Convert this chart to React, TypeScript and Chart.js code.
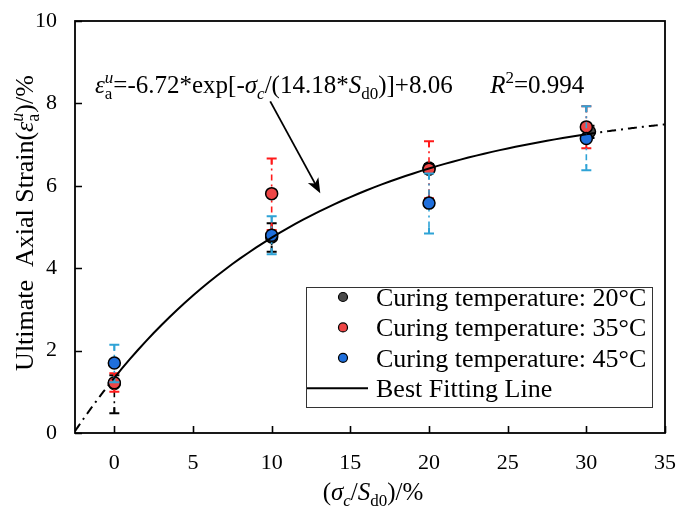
import React, { useEffect, useRef } from "react";
import { Chart, registerables } from "chart.js";
Chart.register(...registerables);

// ---- data ----
const X_TICKS = [0, 5, 10, 15, 20, 25, 30, 35];
const Y_TICKS = [0, 2, 4, 6, 8, 10];

const T20_X = [0, 10, 20, 30.2];
const T20_Y = [1.2, 4.76, 6.43, 7.31];
const T20_UP = [0.2, 0.33, 0.1, 0.15];
const T20_DOWN = [0.72, 0.36, 0.1, 0.15];

const T35_X = [0, 10, 20, 30];
const T35_Y = [1.22, 5.81, 6.4, 7.43];
const T35_UP = [0.23, 0.85, 0.68, 0.5];
const T35_DOWN = [0.22, 0.88, 0.7, 0.52];

const T45_X = [0, 10, 20, 30];
const T45_Y = [1.7, 4.8, 5.58, 7.15];
const T45_UP = [0.44, 0.46, 0.72, 0.78];
const T45_DOWN = [0.47, 0.46, 0.74, 0.77];

// fit parameters as printed on the chart
const FIT_A = -6.72;
const FIT_T = 14.18;
const FIT_Y0 = 8.06;
const FIT_SOLID_RANGE = [0, 30];
const FIT_LEFT_RANGE = [-2.5, 0];
const FIT_RIGHT_RANGE = [30, 35];

const LEGEND_LABELS = [
  "Curing temperature: 20\u00B0C",
  "Curing temperature: 35\u00B0C",
  "Curing temperature: 45\u00B0C",
  "Best Fitting Line",
];

const FAM = '"Liberation Serif", "Times New Roman", serif';
const C_BLACK_FILL = "#4a4a4a";
const C_RED_FILL = "#ee4646";
const C_BLUE_FILL = "#1f6fdc";
const C_BLACK_ERR = "#000000";
const C_RED_ERR = "#ff1a1a";
const C_BLUE_ERR = "#2fa3d6";

function fitCurve(r: number[]) {
  const pts: { x: number; y: number }[] = [];
  const n = 60;
  for (let i = 0; i <= n; i++) {
    const x = r[0] + ((r[1] - r[0]) * i) / n;
    pts.push({ x, y: FIT_Y0 + FIT_A * Math.exp(-x / FIT_T) });
  }
  return pts;
}

type Seg = { t?: string; it?: boolean; pos?: "sub" | "sup"; stack?: { sup: string; supIt: boolean; sub: string; subIt: boolean } };

function segFont(size: number, it?: boolean, small?: boolean) {
  return `${it ? "italic " : ""}${small ? Math.round(size * 0.68) : size}px ${FAM}`;
}

function measureRich(ctx: CanvasRenderingContext2D, segs: Seg[], size: number) {
  let w = 0;
  for (const s of segs) {
    if (s.stack) {
      ctx.font = segFont(size, s.stack.supIt, true);
      const a = ctx.measureText(s.stack.sup).width;
      ctx.font = segFont(size, s.stack.subIt, true);
      const b = ctx.measureText(s.stack.sub).width;
      w += Math.max(a, b);
    } else {
      ctx.font = segFont(size, s.it, !!s.pos);
      w += ctx.measureText(s.t || "").width;
    }
  }
  return w;
}

function drawRich(ctx: CanvasRenderingContext2D, segs: Seg[], x: number, y: number, size: number) {
  let cx = x;
  ctx.textBaseline = "alphabetic";
  ctx.textAlign = "left";
  for (const s of segs) {
    if (s.stack) {
      ctx.font = segFont(size, s.stack.supIt, true);
      const a = ctx.measureText(s.stack.sup).width;
      ctx.fillText(s.stack.sup, cx, y - size * 0.4);
      ctx.font = segFont(size, s.stack.subIt, true);
      const b = ctx.measureText(s.stack.sub).width;
      ctx.fillText(s.stack.sub, cx, y + size * 0.22);
      cx += Math.max(a, b);
    } else {
      ctx.font = segFont(size, s.it, !!s.pos);
      const dy = s.pos === "sub" ? size * 0.22 : s.pos === "sup" ? -size * 0.4 : 0;
      ctx.fillText(s.t || "", cx, y + dy);
      cx += ctx.measureText(s.t || "").width;
    }
  }
}

const EPS: Seg[] = [{ t: "\u03B5", it: true }, { stack: { sup: "u", supIt: true, sub: "a", subIt: false } }];

const EQUATION: Seg[] = [
  ...EPS,
  { t: "=-6.72*exp[-" },
  { t: "\u03C3", it: true },
  { t: "c", it: true, pos: "sub" },
  { t: "/(14.18*" },
  { t: "S", it: true },
  { t: "d0", pos: "sub" },
  { t: ")]+8.06      " },
  { t: "R", it: true },
  { t: "2", pos: "sup" },
  { t: "=0.994" },
];

const X_TITLE: Seg[] = [
  { t: "(" },
  { t: "\u03C3", it: true },
  { t: "c", it: true, pos: "sub" },
  { t: "/" },
  { t: "S", it: true },
  { t: "d0", pos: "sub" },
  { t: ")/%" },
];

const Y_TITLE: Seg[] = [{ t: "Ultimate  Axial Strain(" }, ...EPS, { t: ")/%" }];

const decorPlugin = {
  id: "decor",
  beforeDatasetDraw(chart: any, args: any) {
    const ds: any = chart.data.datasets[args.index];
    if (!ds.errUp) return;
    const ctx: CanvasRenderingContext2D = chart.ctx;
    const xs = chart.scales.x;
    const ys = chart.scales.y;
    ctx.save();
    ctx.strokeStyle = ds.errColor;
    ds.data.forEach((p: any, i: number) => {
      const px = xs.getPixelForValue(p.x);
      const top = ys.getPixelForValue(p.y + ds.errUp[i]);
      const bot = ys.getPixelForValue(p.y - ds.errDown[i]);
      ctx.lineWidth = 1.6;
      ctx.setLineDash([6, 4, 2, 4]);
      ctx.beginPath();
      ctx.moveTo(px, top);
      ctx.lineTo(px, bot);
      ctx.stroke();
      ctx.setLineDash([]);
      ctx.lineWidth = 2;
      ctx.beginPath();
      ctx.moveTo(px - 5, top);
      ctx.lineTo(px + 5, top);
      ctx.moveTo(px - 5, bot);
      ctx.lineTo(px + 5, bot);
      ctx.moveTo(px, top);
      ctx.lineTo(px, top + 6);
      ctx.moveTo(px, bot);
      ctx.lineTo(px, bot - 6);
      ctx.stroke();
    });
    ctx.restore();
  },
  afterDraw(chart: any) {
    const ctx: CanvasRenderingContext2D = chart.ctx;
    const a = chart.chartArea;
    const xs = chart.scales.x;
    const ys = chart.scales.y;
    ctx.save();
    // frame
    ctx.strokeStyle = "#000";
    ctx.lineWidth = 1.8;
    ctx.strokeRect(a.left, a.top, a.right - a.left, a.bottom - a.top);
    // inward ticks
    ctx.lineWidth = 1.6;
    ctx.beginPath();
    X_TICKS.forEach((v) => {
      const px = Math.round(xs.getPixelForValue(v)) + 0.5;
      ctx.moveTo(px, a.bottom);
      ctx.lineTo(px, a.bottom - 7);
    });
    Y_TICKS.forEach((v) => {
      const py = Math.round(ys.getPixelForValue(v)) + 0.5;
      ctx.moveTo(a.left, py);
      ctx.lineTo(a.left + 7, py);
    });
    ctx.stroke();

    ctx.fillStyle = "#000";
    // x title
    const xw = measureRich(ctx, X_TITLE, 25);
    drawRich(ctx, X_TITLE, (a.left + a.right) / 2 - xw / 2 + 3, 500, 25);
    // y title
    const yw = measureRich(ctx, Y_TITLE, 26);
    ctx.save();
    ctx.translate(33, (a.top + a.bottom) / 2 - 4);
    ctx.rotate(-Math.PI / 2);
    drawRich(ctx, Y_TITLE, -yw / 2, 0, 26);
    ctx.restore();

    // equation
    drawRich(ctx, EQUATION, xs.getPixelForValue(-1.23), ys.getPixelForValue(8.25), 25);

    // arrow
    const x1 = xs.getPixelForValue(9.91), y1 = ys.getPixelForValue(8.05);
    const x2 = xs.getPixelForValue(13.09), y2 = ys.getPixelForValue(5.82);
    const ang = Math.atan2(y2 - y1, x2 - x1);
    ctx.lineWidth = 1.8;
    ctx.beginPath();
    ctx.moveTo(x1, y1);
    ctx.lineTo(x2 - 10 * Math.cos(ang), y2 - 10 * Math.sin(ang));
    ctx.stroke();
    ctx.beginPath();
    ctx.moveTo(x2, y2);
    ctx.lineTo(x2 - 15 * Math.cos(ang) + 6 * Math.sin(ang), y2 - 15 * Math.sin(ang) - 6 * Math.cos(ang));
    ctx.lineTo(x2 - 11 * Math.cos(ang), y2 - 11 * Math.sin(ang));
    ctx.lineTo(x2 - 15 * Math.cos(ang) - 6 * Math.sin(ang), y2 - 15 * Math.sin(ang) + 6 * Math.cos(ang));
    ctx.closePath();
    ctx.fill();

    // legend
    const bw = 346, bh = 120;
    const bx = a.right - 13 - bw, by = a.bottom - 26 - bh;
    ctx.fillStyle = "#fff";
    ctx.fillRect(bx, by, bw, bh);
    ctx.strokeStyle = "#333";
    ctx.lineWidth = 1;
    ctx.strokeRect(bx + 0.5, by + 0.5, bw, bh);
    const fills = [C_BLACK_FILL, C_RED_FILL, C_BLUE_FILL];
    LEGEND_LABELS.forEach((lab, i) => {
      const cy = by + 10 + i * 30.4;
      if (i < 3) {
        ctx.beginPath();
        ctx.arc(bx + 37, cy, 4.5, 0, Math.PI * 2);
        ctx.fillStyle = fills[i];
        ctx.fill();
        ctx.strokeStyle = "#000";
        ctx.lineWidth = 1.2;
        ctx.stroke();
      } else {
        ctx.strokeStyle = "#000";
        ctx.lineWidth = 2;
        ctx.beginPath();
        ctx.moveTo(bx + 1, cy);
        ctx.lineTo(bx + 62, cy);
        ctx.stroke();
      }
      ctx.fillStyle = "#000";
      ctx.font = `26px ${FAM}`;
      ctx.textAlign = "left";
      ctx.textBaseline = "alphabetic";
      ctx.fillText(lab, bx + 70, cy + 9);
    });
    ctx.restore();
  },
};

function pts(xs: number[], ys: number[]) {
  return xs.map((x, i) => ({ x, y: ys[i] }));
}

export default function App() {
  const ref = useRef<HTMLCanvasElement | null>(null);
  useEffect(() => {
    if (!ref.current) return;
    const fitBase = {
      type: "line" as const,
      showLine: true,
      pointRadius: 0,
      borderColor: "#000",
      borderWidth: 2,
      tension: 0,
      fill: false,
    };
    const chart = new Chart(ref.current, {
      type: "scatter",
      data: {
        datasets: [
          { ...fitBase, label: "Best Fitting Line", data: fitCurve(FIT_SOLID_RANGE) },
          { ...fitBase, label: "fit-left", data: fitCurve(FIT_LEFT_RANGE), borderDash: [9, 5, 2, 5] },
          { ...fitBase, label: "fit-right", data: fitCurve(FIT_RIGHT_RANGE), borderDash: [9, 5, 2, 5] },
          {
            label: LEGEND_LABELS[2],
            data: pts(T45_X, T45_Y),
            errUp: T45_UP,
            errDown: T45_DOWN,
            errColor: C_BLUE_ERR,
            pointRadius: 6,
            pointBackgroundColor: C_BLUE_FILL,
            pointBorderColor: "#000",
            pointBorderWidth: 1.5,
          } as any,
          {
            label: LEGEND_LABELS[1],
            data: pts(T35_X, T35_Y),
            errUp: T35_UP,
            errDown: T35_DOWN,
            errColor: C_RED_ERR,
            pointRadius: 6,
            pointBackgroundColor: C_RED_FILL,
            pointBorderColor: "#000",
            pointBorderWidth: 1.5,
          } as any,
          {
            label: LEGEND_LABELS[0],
            data: pts(T20_X, T20_Y),
            errUp: T20_UP,
            errDown: T20_DOWN,
            errColor: C_BLACK_ERR,
            pointRadius: 6,
            pointBackgroundColor: C_BLACK_FILL,
            pointBorderColor: "#000",
            pointBorderWidth: 1.5,
          } as any,
        ],
      },
      options: {
        responsive: false,
        animation: false,
        devicePixelRatio: 1,
        layout: { padding: { left: 0, top: 21, right: 13, bottom: 0 } },
        plugins: { legend: { display: false }, tooltip: { enabled: false } },
        scales: {
          x: {
            type: "linear",
            min: -2.5,
            max: 35,
            afterBuildTicks: (s: any) => {
              s.ticks = X_TICKS.map((v) => ({ value: v }));
            },
            afterFit: (s: any) => {
              s.height = 76;
              s.paddingLeft = 0;
              s.paddingRight = 0;
            },
            grid: { display: false },
            border: { display: false },
            ticks: { color: "#000", font: { family: FAM, size: 22 }, padding: 9, maxRotation: 0, autoSkip: false },
          },
          y: {
            type: "linear",
            min: 0,
            max: 10,
            afterBuildTicks: (s: any) => {
              s.ticks = Y_TICKS.map((v) => ({ value: v }));
            },
            afterFit: (s: any) => {
              s.width = 75;
              s.paddingTop = 0;
              s.paddingBottom = 0;
            },
            grid: { display: false },
            border: { display: false },
            ticks: { color: "#000", font: { family: FAM, size: 22 }, padding: 10 },
          },
        },
      },
      plugins: [decorPlugin],
    } as any);
    return () => chart.destroy();
  }, []);
  return (
    <div style={{ position: "absolute", left: 0, top: 0, width: 678, height: 509, background: "#fff" }}>
      <canvas ref={ref} width={678} height={509} style={{ display: "block" }} />
    </div>
  );
}
